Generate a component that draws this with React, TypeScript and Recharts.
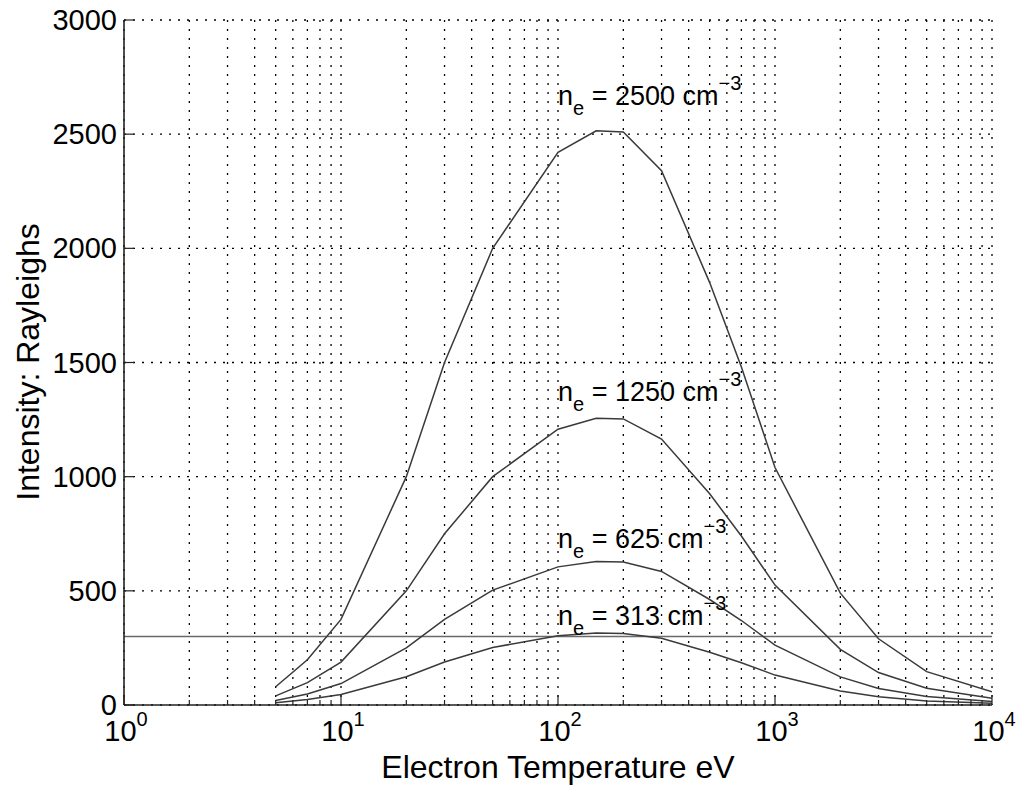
import React from 'react';
import {
  LineChart, Line, XAxis, YAxis, CartesianGrid, ReferenceLine, ReferenceDot,
} from 'recharts';

// Electron temperature sample points (eV)
const temperatures = [5, 7, 10, 20, 30, 50, 100, 150, 200, 300, 500, 700, 1000, 2000, 3000, 5000, 10000];

// Intensity (Rayleighs) for each electron density
const ne2500 = [80, 198, 375, 1000, 1500, 2000, 2420, 2515, 2510, 2340, 1850, 1480, 1040, 490, 290, 146, 58];
const ne1250 = [40, 98, 188, 500, 750, 1000, 1208, 1256, 1253, 1165, 925, 740, 525, 244, 142, 73, 30];
const ne625 = [20, 48, 94, 250, 375, 503, 605, 628, 626, 585, 462, 370, 262, 123, 72, 37, 15];
const ne313 = [10, 24, 46, 124, 188, 252, 303, 315, 313, 292, 231, 185, 131, 61, 36, 18, 8];

// Curve labels: density and label anchor (x in eV, y in Rayleighs)
const labelDensities = ['2500', '1250', '625', '313'];
const labelX = [100, 100, 100, 100];
const labelY = [2628, 1331, 688, 350];

const thresholdValue = 300;

const majorXTicks = [1, 10, 100, 1000, 10000];
const minorMultipliers = [2, 3, 4, 5, 6, 7, 8, 9];
const yTicks = [0, 500, 1000, 1500, 2000, 2500, 3000];

const xTicks: number[] = [];
majorXTicks.forEach((m, i) => {
  xTicks.push(m);
  if (i < majorXTicks.length - 1) minorMultipliers.forEach((k) => xTicks.push(k * m));
});

const data = temperatures.map((t, i) => ({
  t,
  a: ne2500[i],
  b: ne1250[i],
  c: ne625[i],
  d: ne313[i],
}));

const FONT = 'Arial, "Liberation Sans", Helvetica, sans-serif';
const AXIS = '#222';
const CURVE = '#3a3a3a';

const isMajor = (v: number) => majorXTicks.includes(v);

const BottomTick = (props: any) => {
  const { x, y, payload } = props;
  const v = payload.value;
  const major = isMajor(v);
  const exp = Math.round(Math.log10(v));
  return (
    <g>
      <line x1={x} x2={x} y1={y} y2={y - (major ? 10 : 5)} stroke={AXIS} strokeWidth={1.2} />
      {major && (
        <text x={x + 2} y={y + 36} textAnchor="middle" fontFamily={FONT} fontSize={29} fill="#000">
          <tspan>10</tspan>
          <tspan fontSize={20} dy={-15}>{String(exp)}</tspan>
        </text>
      )}
    </g>
  );
};

const TopTick = (props: any) => {
  const { x, y, payload } = props;
  const major = isMajor(payload.value);
  return <line x1={x} x2={x} y1={y} y2={y + (major ? 10 : 5)} stroke={AXIS} strokeWidth={1.2} />;
};

const LeftTick = (props: any) => {
  const { x, y, payload } = props;
  return (
    <g>
      <line x1={x} x2={x + 10} y1={y} y2={y} stroke={AXIS} strokeWidth={1.2} />
      <text x={x - 7} y={y} dy={10} textAnchor="end" fontFamily={FONT} fontSize={29} fill="#000">
        {String(payload.value)}
      </text>
    </g>
  );
};

const RightTick = (props: any) => {
  const { x, y } = props;
  return <line x1={x} x2={x - 10} y1={y} y2={y} stroke={AXIS} strokeWidth={1.2} />;
};

const makeLabel = (density: string) => (p: any) => (
  <text x={p.cx} y={p.cy} fontFamily={FONT} fontSize={27} fill="#000">
    <tspan>n</tspan>
    <tspan fontSize={20} dy={10}>e</tspan>
    <tspan dy={-10}>{` = ${density} cm`}</tspan>
    <tspan fontSize={20} dy={-15}>{'\u2212'}3</tspan>
  </text>
);

const XTitle = () => (
  <text x={550} y={770} textAnchor="middle" fontFamily={FONT} fontSize={32} fill="#000">
    Electron Temperature eV
  </text>
);

const YTitle = () => (
  <text
    x={31}
    y={354}
    transform="rotate(-90 31 354)"
    textAnchor="middle"
    fontFamily={FONT}
    fontSize={32}
    fill="#000"
  >
    Intensity: Rayleighs
  </text>
);

export default function App() {
  return (
    <LineChart
      width={1009}
      height={780}
      data={data}
      margin={{ top: 12, right: 25, bottom: 0, left: 0 }}
    >
      <CartesianGrid stroke="#000" strokeDasharray="2 7" strokeWidth={1.3} />
      <XAxis
        dataKey="t"
        type="number"
        scale="log"
        domain={[1, 10000]}
        ticks={xTicks}
        interval={0}
        allowDataOverflow
        height={83}
        tickSize={0}
        tickMargin={0}
        tick={BottomTick}
        tickLine={false}
        axisLine={{ stroke: AXIS, strokeWidth: 1.6 }}
        label={{ content: XTitle }}
      />
      <XAxis
        xAxisId="top"
        orientation="top"
        type="number"
        scale="log"
        domain={[1, 10000]}
        ticks={xTicks}
        interval={0}
        allowDataOverflow
        height={0}
        tickSize={0}
        tickMargin={0}
        tick={TopTick}
        tickLine={false}
        axisLine={{ stroke: AXIS, strokeWidth: 1.6 }}
      />
      <YAxis
        type="number"
        domain={[0, 3000]}
        ticks={yTicks}
        interval={0}
        allowDataOverflow
        width={116}
        tickSize={0}
        tickMargin={0}
        tick={LeftTick}
        tickLine={false}
        axisLine={{ stroke: AXIS, strokeWidth: 1.6 }}
        label={{ content: YTitle }}
      />
      <YAxis
        yAxisId="right"
        orientation="right"
        type="number"
        domain={[0, 3000]}
        ticks={yTicks}
        interval={0}
        allowDataOverflow
        width={0}
        tickSize={0}
        tickMargin={0}
        tick={RightTick}
        tickLine={false}
        axisLine={{ stroke: AXIS, strokeWidth: 1.6 }}
      />
      <ReferenceLine y={thresholdValue} stroke="#6a6a6a" strokeWidth={1.6} />
      <Line dataKey="a" type="linear" stroke={CURVE} strokeWidth={1.5} dot={false} isAnimationActive={false} />
      <Line dataKey="b" type="linear" stroke={CURVE} strokeWidth={1.5} dot={false} isAnimationActive={false} />
      <Line dataKey="c" type="linear" stroke={CURVE} strokeWidth={1.5} dot={false} isAnimationActive={false} />
      <Line dataKey="d" type="linear" stroke={CURVE} strokeWidth={1.5} dot={false} isAnimationActive={false} />
      {labelDensities.map((dens, i) => (
        <ReferenceDot
          key={dens}
          x={labelX[i]}
          y={labelY[i]}
          r={0}
          ifOverflow="visible"
          shape={makeLabel(dens)}
        />
      ))}
    </LineChart>
  );
}
